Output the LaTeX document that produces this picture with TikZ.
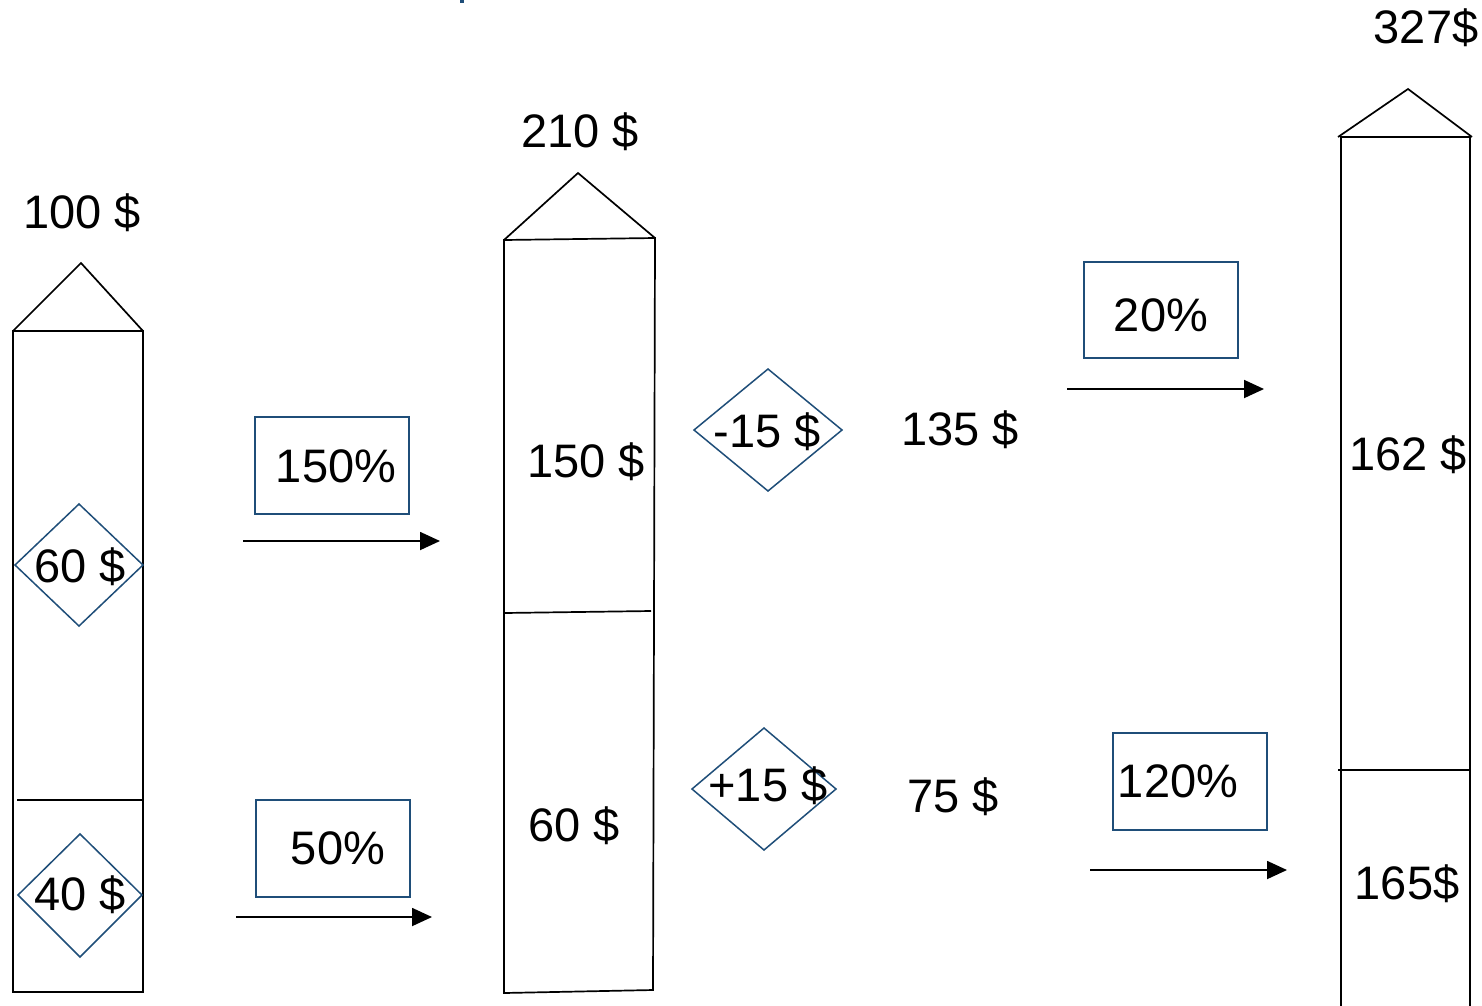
\documentclass[tikz,border=0pt]{standalone}
\usepackage{fontspec}
\setmainfont{Liberation Sans}
\usetikzlibrary{arrows.meta}
\definecolor{boxblue}{RGB}{31,78,121}
\tikzset{
  colline/.style={draw=black, line width=1.7pt},
  lbl/.style={inner sep=0pt, font=\fontsize{47}{51}\selectfont},
  pctbox/.style={draw=boxblue, line width=1.5pt, inner sep=0pt},
  dmd/.style={draw=boxblue, line width=1.5pt},
  flow/.style={draw=black, line width=1.8pt, -{Triangle[length=20pt,width=18pt]}},
}
\begin{document}
\begin{tikzpicture}[x=1pt,y=-1pt]
\useasboundingbox (0,0) rectangle (1482,1005);
\fill[white] (0,0) rectangle (1482,1005);
\fill[boxblue] (460,0) rectangle (464,2.5);

% --- first column: 100 $
\draw[colline] (13,331) rectangle (143,992);
\draw[colline] (13,331) -- (81,263) -- (143,331);
\draw[colline] (17,800) -- (143,800);
\node[lbl] (t100) at (82,213) {100 \$};
\draw[dmd] (79,565) +(-64,0) -- +(0,-61) -- +(64,0) -- +(0,61) -- cycle;
\node[lbl] (d60) at (80,567) {60 \$};
\draw[dmd] (80,895) +(-62,0) -- +(0,-61) -- +(62,0) -- +(0,62) -- cycle;
\node[lbl] (d40) at (80,895) {40 \$};

% --- second column: 210 $
\draw[colline] (504,240) -- (655,238) -- (653,990) -- (504,993) -- cycle;
\draw[colline] (504,240) -- (578,173) -- (655,238);
\draw[colline] (504,613) -- (651,611);
\node[lbl] (t210) at (580,132) {210 \$};
\node[lbl] (c150) at (586,462) {150 \$};
\node[lbl] (c60) at (574,826) {60 \$};

% --- third column: 327$
\draw[colline] (1341,1010) -- (1341,137) -- (1470,137) -- (1470,1010);
\draw[colline] (1338,137) -- (1408,89) -- (1472,137);
\draw[colline] (1338,770) -- (1470,770);
\node[lbl] (t327) at (1426,28) {327\$};
\node[lbl] (c162) at (1408,455) {162 \$};
\node[lbl] (c165) at (1407,884) {165\$};

% --- rates
\node[pctbox, minimum width=154pt, minimum height=97pt] (p150) at (332,465.5) {};
\node[lbl] at (336,466) {150\%};
\node[pctbox, minimum width=154pt, minimum height=97pt] (p50) at (333,848.5) {};
\node[lbl] at (338,848) {50\%};
\node[pctbox, minimum width=154pt, minimum height=96pt] (p20) at (1161,310) {};
\node[lbl] at (1161,315) {20\%};
\node[pctbox, minimum width=154pt, minimum height=97pt] (p120) at (1190,781.5) {};
\node[lbl] at (1178,781) {120\%};

% --- adjustments
\draw[dmd] (768,430) +(-74,0) -- +(0,-61) -- +(74,0) -- +(0,61) -- cycle;
\node[lbl] (m15) at (767,432) {-15 \$};
\draw[dmd] (764,789) +(-72,0) -- +(0,-61) -- +(72,0) -- +(0,61) -- cycle;
\node[lbl] (p15) at (768,786) {+15 \$};
\node[lbl] (v135) at (960,430) {135 \$};
\node[lbl] (v75) at (953,797) {75 \$};

% --- arrows
\coordinate (a1s) at (243,541); \coordinate (a1e) at (440,541);
\coordinate (a2s) at (236,917); \coordinate (a2e) at (432,917);
\coordinate (a3s) at (1067,389); \coordinate (a3e) at (1264,389);
\coordinate (a4s) at (1090,870); \coordinate (a4e) at (1287,870);
\draw[flow] (a1s) -- (a1e);
\draw[flow] (a2s) -- (a2e);
\draw[flow] (a3s) -- (a3e);
\draw[flow] (a4s) -- (a4e);
\end{tikzpicture}
\end{document}
